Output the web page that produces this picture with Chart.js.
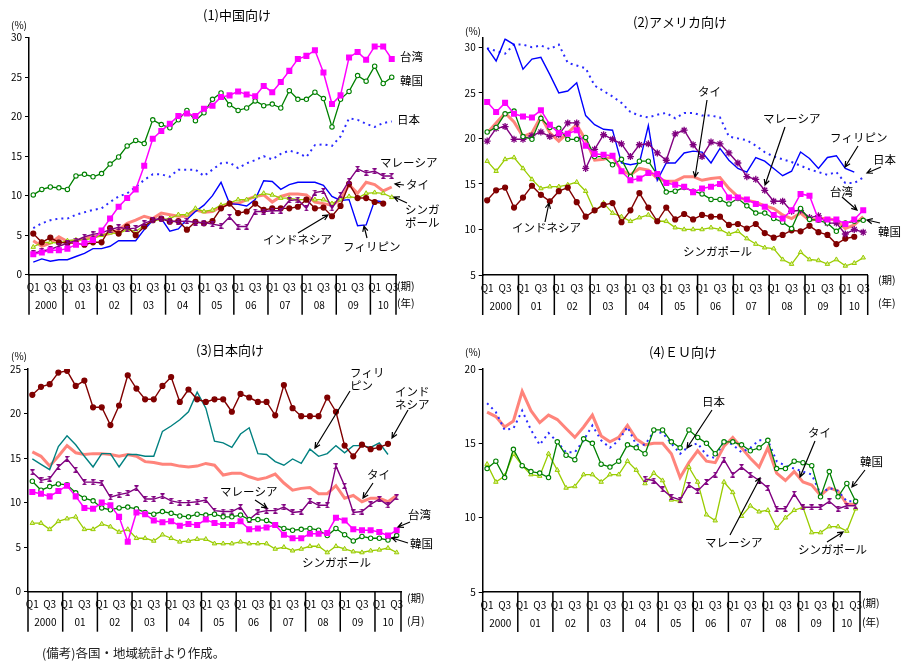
<!DOCTYPE html>
<html>
<head>
<meta charset="utf-8">
<script src="https://cdn.jsdelivr.net/npm/chart.js@4.4.0/dist/chart.umd.min.js"></script>
<style>
  body { margin: 0; background: #fff; }
  canvas { position: absolute; }
  #note { position: absolute; left: 42px; top: 643px; font: 12.5px "Noto Sans CJK JP", sans-serif; color: #222; }
</style>
</head>
<body>
<canvas id="cn" width="450" height="330" style="left:0;top:0"></canvas>
<canvas id="us" width="459" height="330" style="left:450px;top:0"></canvas>
<canvas id="jp" width="450" height="333" style="left:0;top:335px"></canvas>
<canvas id="eu" width="459" height="333" style="left:450px;top:335px"></canvas>
<div id="note">(備考)各国・地域統計より作成。</div>
<script>
// categories: 2000Q1 .. 2010Q3
var yearLabels = ['2000', '01', '02', '03', '04', '05', '06', '07', '08', '09', '10'];
var quarters = [];
for (var y = 2000; y <= 2010; y++) {
  for (var q = 1; q <= 4; q++) {
    if (y === 2010 && q > 3) break;
    quarters.push(y + 'Q' + q);
  }
}

// (1) 中国向け
var cnTaiwan = [2.6,2.8,3.1,3.1, 3.3,3.8,4.0,4.4, 5.6,7.1,8.6,9.7, 10.8,13.8,17.2,18.2, 19.1,20.1,20.4,20.1, 21.0,21.4,22.5,22.7, 23.2,22.8,22.6,23.9, 23.1,24.4,25.8,27.3, 27.7,28.4,25.6,21.6, 22.7,27.5,28.2,27.2, 28.9,28.9,27.3];
var cnKorea = [10.1,10.8,11.1,11.0, 10.8,12.5,12.7,12.4, 12.8,14.0,14.9,16.3, 17.0,16.6,19.6,19.0, 18.6,19.6,20.8,19.5, 20.5,22.2,23.0,21.5, 20.8,21.1,22.0,21.4, 21.6,21.1,23.3,22.2, 22.2,23.1,22.3,18.7, 22.2,23.2,25.2,24.5, 26.4,24.2,25.0];
var cnJapan = [5.9,6.5,6.9,7.1, 7.1,7.6,7.9,8.2, 8.4,9.2,9.9,10.3, 11.1,12.0,12.7,12.7, 12.4,13.3,13.3,13.3, 12.5,13.3,14.1,14.2, 13.5,14.1,14.5,15.0, 14.6,15.3,15.7,15.4, 14.9,16.4,16.5,16.3, 17.5,19.8,19.6,19.1, 18.7,19.2,19.4];
var cnMalaysia = [2.7,3.0,3.2,3.6, 4.0,4.3,4.8,5.1, 5.3,5.7,6.0,5.8, 5.9,6.5,6.9,7.1, 6.8,6.7,6.8,6.6, 6.6,6.4,6.2,7.3, 6.1,6.1,8.0,8.0, 8.1,8.1,9.4,9.5, 8.4,10.4,10.6,8.4, 10.1,11.9,13.4,12.9, 13.1,12.5,12.5];
var cnThai = [4.3,3.6,4.0,4.8, 4.2,4.3,4.6,4.8, 5.0,5.2,5.7,6.5, 6.9,7.4,7.1,7.8, 7.6,7.4,7.4,8.2, 7.9,8.0,8.6,9.0, 9.0,9.5,9.9,10.1, 9.2,9.9,10.2,10.2, 10.1,9.2,9.0,8.8, 9.5,11.4,10.3,11.7, 11.4,10.6,11.1];
var cnSingapore = [3.5,4.1,4.1,4.0, 4.3,4.4,4.4,4.6, 5.0,5.3,5.2,5.7, 5.5,6.2,6.8,7.0, 7.1,7.6,7.6,8.4, 8.0,8.2,8.8,9.1, 9.5,9.5,9.9,10.3, 10.1,9.7,9.7,9.5, 9.5,9.5,9.5,9.0, 9.5,9.9,9.7,10.3, 10.4,10.3,9.8];
var cnIndonesia = [5.2,4.1,4.7,4.1, 4.0,4.0,3.8,4.1, 4.1,5.9,5.2,6.1, 5.0,6.1,6.9,7.1, 6.7,6.8,5.7,6.7, 6.5,6.8,8.4,9.0, 7.8,8.0,9.0,8.2, 8.4,8.4,8.4,8.6, 9.5,8.4,8.5,7.4, 8.7,11.5,9.7,9.7, 9.2,9.0,null];
var cnPhilippines = [1.6,2.0,1.7,1.9, 1.9,2.3,2.7,3.3, 3.3,3.6,4.3,4.3, 4.3,5.7,6.9,7.1, 5.5,5.8,7.0,8.0, 8.8,10.0,11.7,9.0, 8.9,8.7,9.5,11.9, 11.8,10.8,11.4,11.7, 11.7,11.7,11.3,9.9, 9.4,9.5,6.2,6.3, 9.4,9.2,null];

// (2) アメリカ向け
var usTaiwan = [24.0,22.9,23.9,22.7, 22.4,22.3,23.1,21.5, 20.6,20.5,20.9,19.2, 18.3,18.2,18.1,16.4, 15.4,15.6,16.2,16.1, 15.1,14.9,14.7,14.1, 14.5,14.7,15.0,13.5, 13.5,13.3,12.8,12.5, 11.6,11.2,12.1,13.9, 13.7,11.1,11.1,11.1, 10.6,11.1,12.1];
var usKorea = [20.7,21.2,22.7,23.0, 20.2,19.9,22.2,21.2, 21.1,19.9,19.9,20.1, 18.0,18.0,17.1,17.7, 15.8,17.5,17.5,16.0, 14.1,14.2,14.6,14.2, 13.9,13.3,13.3,12.8, 13.4,12.6,11.8,11.8, 11.2,10.8,10.1,12.3, 11.1,11.0,10.7,9.8, 10.7,10.9,11.0];
var usJapan = [29.9,29.6,29.3,30.3, 30.3,30.0,30.2,29.8, 30.3,28.3,28.0,27.7, 25.8,25.2,24.6,23.9, 22.9,22.5,22.3,22.6, 22.8,22.2,22.8,22.8, 22.5,22.5,22.3,20.2, 20.0,19.8,19.2,18.5, 18.0,17.7,17.4,17.0, 16.6,16.3,16.0,16.3, 15.1,15.1,15.7];
var usPhilippines = [29.9,28.5,30.9,30.3, 27.6,28.7,28.9,27.0, 25.0,25.2,26.1,22.5, 21.5,21.0,20.9,17.3, 17.1,17.3,21.4,15.4, 17.3,17.3,18.4,18.6, 18.5,17.3,18.9,17.6, 16.7,16.3,17.9,17.5, 16.7,15.9,16.4,18.5, 17.8,16.7,17.9,18.1, 16.7,16.3,null];
var usThai = [20.6,21.7,22.8,21.8, 20.2,20.6,22.4,20.6, 19.7,20.6,21.5,19.8, 17.6,17.7,18.0,16.5, 16.0,16.7,16.5,15.6, 15.3,15.3,15.8,15.8, 15.4,15.6,15.7,14.5, 13.6,13.2,13.0,12.6, 12.3,11.6,11.2,11.8, 11.0,11.2,11.2,11.0, 10.1,10.5,11.4];
var usMalaysia = [19.7,21.1,21.3,19.9, 19.9,20.3,20.7,20.2, 20.4,21.7,21.7,16.7, 18.8,20.4,19.9,19.4, 18.0,19.3,19.4,18.4, 17.6,20.5,20.9,19.3, 18.0,19.6,19.4,18.4, 17.3,15.8,15.5,14.3, 13.1,13.1,12.0,12.1, 11.3,11.5,10.7,10.7, 9.5,10.0,9.7];
var usIndonesia = [13.2,14.3,14.6,12.4, 13.5,14.8,13.8,13.1, 14.2,14.6,13.0,11.4, 12.1,12.7,12.9,10.8, 12.1,14.0,12.4,10.9, 12.4,11.1,11.7,11.1, 11.6,11.4,11.4,10.5, 10.6,10.1,10.6,9.6, 9.1,9.4,9.9,9.8, 10.4,9.7,9.4,8.4, 9.0,9.2,null];
var usSingapore = [17.5,16.4,17.7,17.9, 16.7,15.5,14.5,14.7, 14.7,14.9,15.2,14.2, 12.0,12.9,11.8,11.4, 10.9,11.3,11.6,10.9, 10.9,10.2,10.0,10.0, 10.0,10.2,10.0,9.5, 9.8,9.0,8.4,8.0, 7.9,6.7,6.2,7.5, 6.7,6.6,6.2,6.7, 6.0,6.3,6.9];

// (3) 日本向け
var jpIndonesia = [22.1,23.0,23.3,24.6, 24.8,23.1,23.7,20.7, 20.7,18.7,20.9,24.3, 22.8,21.6,21.6,23.1, 24.1,21.3,22.7,21.6, 21.3,21.6,21.6,20.2, 22.2,21.8,21.3,21.3, 19.8,23.2,20.6,19.7, 19.7,19.7,21.8,20.2, 16.4,15.2,16.5,16.0, 16.2,16.6,null];
var jpPhilippines = [14.9,14.3,13.7,16.3, 17.5,16.5,15.2,14.0, 15.5,15.5,14.0,15.4, 15.4,15.2,15.2,18.0, 18.6,19.3,20.2,22.4, 20.6,16.9,16.7,16.2, 17.7,18.4,15.5,15.4, 14.6,14.2,14.9,14.4, 16.0,15.2,15.5,16.4, 15.6,16.4,16.4,16.2, 16.7,15.4,null];
var jpThai = [15.7,15.2,14.1,15.2, 16.4,15.6,15.4,15.5, 15.5,15.4,15.2,15.4, 15.2,14.6,14.5,14.3, 14.3,14.1,14.0,14.1, 14.4,14.2,13.1,13.3, 13.3,12.9,12.6,12.8, 13.2,12.2,11.4,11.6, 11.7,11.0,11.0,11.9, 10.5,10.8,10.1,10.5, 10.5,10.1,10.8];
var jpMalaysia = [13.4,12.5,12.7,14.0, 14.9,13.7,12.3,12.3, 12.2,10.6,10.9,11.1, 11.6,10.4,10.4,10.7, 10.2,10.0,10.0,10.1, 10.3,9.1,9.0,9.0, 9.5,8.1,8.9,9.1, 9.1,9.5,8.9,9.0, 10.2,9.7,9.7,14.1, 11.9,8.9,9.0,9.8, 10.4,9.7,10.6];
var jpKorea = [12.4,11.4,11.8,12.1, 12.0,11.1,10.5,10.2, 9.4,9.2,9.4,9.5, 9.3,8.9,8.7,9.0, 8.8,8.5,8.4,8.7, 8.6,8.7,8.4,8.4, 8.6,8.1,8.1,8.0, 7.5,7.1,6.9,7.0, 7.1,6.9,6.3,7.1, 6.4,5.7,6.2,6.0, 6.0,5.8,6.3];
var jpTaiwan = [11.2,11.0,10.7,11.3, 11.9,10.7,9.4,9.3, 10.0,9.7,8.4,5.6, 8.9,8.7,8.0,7.8, 7.9,7.4,7.6,7.5, 8.1,7.7,7.5,7.5, 7.9,7.0,7.1,7.2, 7.5,6.4,6.0,6.0, 6.5,6.5,6.6,8.3, 8.0,7.0,6.9,6.9, 6.7,6.3,6.9];
var jpSingapore = [7.7,7.7,7.0,7.9, 8.2,8.4,7.0,7.0, 7.6,7.3,6.7,7.0, 6.0,6.0,5.7,6.4, 6.0,5.6,5.7,5.9, 5.9,5.4,5.4,5.4, 5.6,5.4,5.4,5.4, 4.8,5.0,4.6,4.8, 5.1,5.1,4.4,5.1, 4.8,4.5,4.4,4.6, 4.7,4.9,4.4];

// (4) EU向け
var euJapan = [17.7,17.1,15.9,16.0, 17.2,15.9,14.9,15.7, 15.1,14.4,14.4,15.2, 16.2,15.2,14.7,15.2, 16.1,14.9,14.9,15.8, 15.7,15.0,14.3,14.8, 15.0,14.2,14.0,15.2, 14.9,14.4,14.7,15.2, 15.2,13.8,13.5,13.3, 13.1,12.9,11.6,12.0, 11.8,11.1,11.1];
var euThai = [17.1,16.8,16.1,16.5, 18.5,17.2,16.4,16.9, 16.6,16.0,15.4,16.1, 16.9,15.5,15.1,15.4, 16.2,15.3,14.9,15.0, 15.0,14.3,12.7,13.7, 14.5,13.8,13.7,14.8, 15.4,14.7,14.0,13.4, 14.7,13.0,12.5,13.1, 12.4,12.2,11.5,12.0, 11.8,10.9,10.9];
var euKorea = [13.3,13.8,12.7,14.6, 13.5,13.1,13.0,12.7, 15.1,14.2,13.9,15.3, 15.0,13.6,13.4,13.8, 14.9,14.7,14.3,15.9, 15.9,15.1,14.7,15.9, 15.4,15.0,14.3,15.1, 15.1,14.9,14.5,14.7, 15.2,13.3,13.3,13.8, 13.7,13.5,11.4,13.1, 11.4,12.3,11.1];
var euSingapore = [13.6,12.4,12.8,14.3, 13.5,12.9,12.8,14.3, 13.2,12.0,12.1,12.9, 12.9,12.4,12.9,12.9, 13.8,13.2,12.3,13.0, 12.5,11.2,11.1,13.4, 12.4,10.2,9.8,12.4, 11.7,10.1,10.8,10.4, 10.5,9.3,10.0,10.5, 10.7,9.0,9.0,9.4, 9.4,9.1,10.6];
var euMalaysia = [null,null,null,null, null,null,null,null, null,null,null,null, null,null,null,null, null,null,12.6,12.5, 11.9,11.4,11.2,12.2, 11.8,12.4,12.9,13.9, 12.9,13.4,12.9,12.5, 12.0,10.6,10.6,11.6, 10.7,10.7,10.7,11.1, 10.6,10.8,10.8];

Chart.defaults.font.family = '"Noto Sans CJK JP", sans-serif';
Chart.defaults.color = '#000';

// hourglass marker used for Malaysia
var hourglass = (function() {
  var c = document.createElement('canvas');
  c.width = 5; c.height = 6;
  var g = c.getContext('2d');
  g.fillStyle = '#800080';
  g.beginPath();
  g.moveTo(0, 0); g.lineTo(5, 0); g.lineTo(2.5, 3); g.closePath();
  g.moveTo(0, 6); g.lineTo(5, 6); g.lineTo(2.5, 3); g.closePath();
  g.fill();
  return c;
})();

function line(label, data, style) {
  var d = { label: label, data: data, tension: 0, spanGaps: false, fill: false };
  for (var k in style) d[k] = style[k];
  return d;
}

var sTaiwan = { borderColor: '#ff00ff', backgroundColor: '#ff00ff', borderWidth: 1.5, pointStyle: 'rect', pointRadius: 3.2 };
var sKorea = { borderColor: '#008000', backgroundColor: '#ffffff', borderWidth: 1.3, pointStyle: 'circle', pointRadius: 2.2, pointBorderWidth: 1.1 };
var sJapan = { borderColor: '#2a2aff', borderWidth: 2, borderDash: [2, 4], pointRadius: 0 };
var sMalaysia = { borderColor: '#800080', backgroundColor: '#800080', borderWidth: 1.4, pointStyle: hourglass, pointRadius: 3 };
var sMalaysiaStar = { borderColor: '#800080', backgroundColor: '#800080', borderWidth: 1.4, pointStyle: 'star', pointRadius: 3.5, pointBorderWidth: 1.3 };
var sThai = { borderColor: 'rgba(255,110,100,0.85)', borderWidth: 3, pointRadius: 0 };
var sSingapore = { borderColor: '#99cc00', backgroundColor: '#ddeea0', borderWidth: 1.3, pointStyle: 'triangle', pointRadius: 2.6, pointBorderWidth: 1 };
var sIndonesia = { borderColor: '#800000', backgroundColor: '#800000', borderWidth: 1.4, pointStyle: 'circle', pointRadius: 2.4 };
var sPhilippines = { borderColor: '#0000ff', borderWidth: 1.4, pointRadius: 0 };
var sPhilippinesTeal = { borderColor: '#008080', borderWidth: 1.4, pointRadius: 0 };

function arrow(ctx, a) {
  var x1 = a[0], y1 = a[1], x2 = a[2], y2 = a[3];
  var ang = Math.atan2(y2 - y1, x2 - x1);
  ctx.beginPath();
  ctx.moveTo(x1, y1); ctx.lineTo(x2, y2);
  ctx.moveTo(x2 - 6 * Math.cos(ang - 0.45), y2 - 6 * Math.sin(ang - 0.45));
  ctx.lineTo(x2, y2);
  ctx.lineTo(x2 - 6 * Math.cos(ang + 0.45), y2 - 6 * Math.sin(ang + 0.45));
  ctx.stroke();
}

function decor(p) {
  return {
    id: 'decor',
    afterDraw: function(chart) {
      var ctx = chart.ctx, xs = chart.scales.x, a = chart.chartArea;
      var n = quarters.length;
      ctx.save();
      // year separators and year row
      ctx.strokeStyle = '#000';
      ctx.lineWidth = 1.5;
      for (var k = 0; k <= n; k += 4) {
        var kk = k > n - 1 ? n : k;
        var px = xs.getPixelForValue(kk - 0.5);
        ctx.beginPath(); ctx.moveTo(px, a.bottom); ctx.lineTo(px, a.bottom + 40); ctx.stroke();
        if (k + 4 > n && k !== n) {
          px = xs.getPixelForValue(n - 0.5);
          ctx.beginPath(); ctx.moveTo(px, a.bottom); ctx.lineTo(px, a.bottom + 40); ctx.stroke();
        }
      }
      ctx.fillStyle = '#000';
      ctx.font = '10px "Noto Sans CJK JP"';
      ctx.textAlign = 'center';
      ctx.textBaseline = 'middle';
      yearLabels.forEach(function(yl, j) {
        var s = j * 4, e = Math.min(s + 4, n);
        var cx = (xs.getPixelForValue(s - 0.5) + xs.getPixelForValue(e - 0.5)) / 2;
        ctx.fillText(yl, cx, a.bottom + 31);
      });
      // texts placed in page coordinates
      ctx.translate(-p.ox, -p.oy);
      ctx.textAlign = 'left';
      ctx.font = '10.5px "Noto Sans CJK JP"';
      p.period.forEach(function(t) { ctx.fillText(t[0], t[1], t[2]); });
      ctx.textAlign = 'center';
      ctx.font = '10px "Noto Sans CJK JP"';
      ctx.fillText('(%)', p.unit[0], p.unit[1]);
      ctx.font = '13px "Noto Sans CJK JP"';
      ctx.fillText(p.title, p.titleAt[0], p.titleAt[1]);
      ctx.font = '11.5px "Noto Sans CJK JP"';
      ctx.textAlign = 'left';
      ctx.lineWidth = 1.2;
      p.notes.forEach(function(nt) {
        var lines = [].concat(nt.t);
        lines.forEach(function(s, i) { ctx.fillText(s, nt.x, nt.y + i * 12.5); });
        if (nt.arrow) arrow(ctx, nt.arrow);
      });
      ctx.restore();
    }
  };
}

function makeChart(id, p) {
  var XH = 45;
  new Chart(document.getElementById(id).getContext('2d'), {
    type: 'line',
    data: { labels: quarters, datasets: p.datasets },
    options: {
      responsive: false,
      animation: false,
      events: [],
      layout: {
        padding: {
          left: 0,
          top: p.area.t - p.oy,
          right: p.w - (p.area.r - p.ox),
          bottom: p.h - (p.area.b - p.oy) - XH
        }
      },
      plugins: { legend: { display: false }, tooltip: { enabled: false } },
      scales: {
        x: {
          type: 'category',
          offset: true,
          grid: { display: false, drawTicks: false },
          border: { display: true, color: '#000', width: 1.5 },
          ticks: {
            autoSkip: false, maxRotation: 0, padding: 7,
            font: { size: 10 }, color: '#000',
            callback: function(v) {
              var s = this.getLabelForValue(v).slice(-2);
              return (s === 'Q1' || s === 'Q3') ? s : '';
            }
          },
          afterFit: function(s) { s.height = XH; }
        },
        y: {
          min: p.min, max: p.max,
          border: { color: '#000', width: 1.5 },
          grid: { drawOnChartArea: false, tickLength: 4, color: '#000', lineWidth: 1 },
          ticks: { stepSize: 5, includeBounds: false, padding: 3, font: { size: 10 }, color: '#000' },
          afterFit: function(s) { s.width = p.area.l - p.ox; }
        }
      }
    },
    plugins: [decor(p)]
  });
}

makeChart('cn', {
  ox: 0, oy: 0, w: 450, h: 330,
  area: { l: 29, t: 37.7, r: 396, b: 274.7 }, min: 0, max: 30,
  title: '(1)中国向け', titleAt: [237, 15], unit: [19, 25],
  period: [['(期)', 397, 286], ['(年)', 397, 303]],
  datasets: [
    line('台湾', cnTaiwan, sTaiwan),
    line('韓国', cnKorea, sKorea),
    line('マレーシア', cnMalaysia, sMalaysia),
    line('インドネシア', cnIndonesia, sIndonesia),
    line('シンガポール', cnSingapore, sSingapore),
    line('フィリピン', cnPhilippines, sPhilippines),
    line('日本', cnJapan, sJapan),
    line('タイ', cnThai, sThai)
  ],
  notes: [
    { t: '台湾', x: 400, y: 57 },
    { t: '韓国', x: 400, y: 81 },
    { t: '日本', x: 397, y: 120 },
    { t: 'マレーシア', x: 380, y: 163 },
    { t: 'タイ', x: 406, y: 185, arrow: [404, 185, 395, 184] },
    { t: ['シンガ', 'ポール'], x: 405, y: 210, arrow: [407, 203, 394, 197] },
    { t: 'インドネシア', x: 263, y: 240, arrow: [298, 233, 328, 215] },
    { t: 'フィリピン', x: 343, y: 247, arrow: [367, 238, 364, 226] }
  ]
});

makeChart('us', {
  ox: 450, oy: 0, w: 459, h: 330,
  area: { l: 482.7, t: 38.2, r: 867.7, b: 275 }, min: 5, max: 31,
  title: '(2)アメリカ向け', titleAt: [680, 22], unit: [473, 31],
  period: [['(期)', 878, 280], ['(年)', 878, 303]],
  datasets: [
    line('台湾', usTaiwan, sTaiwan),
    line('韓国', usKorea, sKorea),
    line('マレーシア', usMalaysia, sMalaysiaStar),
    line('インドネシア', usIndonesia, sIndonesia),
    line('シンガポール', usSingapore, sSingapore),
    line('フィリピン', usPhilippines, sPhilippines),
    line('日本', usJapan, sJapan),
    line('タイ', usThai, sThai)
  ],
  notes: [
    { t: 'タイ', x: 698, y: 92, arrow: [707, 100, 695, 177] },
    { t: 'マレーシア', x: 763, y: 119, arrow: [785, 127, 765, 185] },
    { t: 'フィリピン', x: 830, y: 138, arrow: [858, 146, 845, 167] },
    { t: '日本', x: 873, y: 160, arrow: [881, 167, 867, 173] },
    { t: '台湾', x: 830, y: 192, arrow: [842, 197, 857, 210] },
    { t: '韓国', x: 878, y: 232, arrow: [880, 223, 867, 220] },
    { t: 'インドネシア', x: 512, y: 228, arrow: [545, 222, 549, 203] },
    { t: 'シンガポール', x: 683, y: 252 }
  ]
});

makeChart('jp', {
  ox: 0, oy: 335, w: 450, h: 333,
  area: { l: 28, t: 369, r: 401, b: 591.7 }, min: 0, max: 25,
  title: '(3)日本向け', titleAt: [230, 350], unit: [19, 356],
  period: [['(期)', 407, 598], ['(月)', 407, 621]],
  datasets: [
    line('インドネシア', jpIndonesia, sIndonesia),
    line('台湾', jpTaiwan, sTaiwan),
    line('韓国', jpKorea, sKorea),
    line('マレーシア', jpMalaysia, sMalaysia),
    line('シンガポール', jpSingapore, sSingapore),
    line('フィリピン', jpPhilippines, sPhilippinesTeal),
    line('タイ', jpThai, sThai)
  ],
  notes: [
    { t: ['フィリ', 'ピン'], x: 350, y: 373, arrow: [350, 391, 315, 448] },
    { t: ['インド', 'ネシア'], x: 395, y: 392, arrow: [408, 410, 392, 438] },
    { t: 'タイ', x: 367, y: 475, arrow: [373, 483, 363, 498] },
    { t: 'マレーシア', x: 220, y: 492, arrow: [255, 500, 267, 508] },
    { t: '台湾', x: 408, y: 515, arrow: [410, 522, 398, 527] },
    { t: '韓国', x: 410, y: 544, arrow: [408, 543, 392, 538] },
    { t: 'シンガポール', x: 302, y: 563 }
  ]
});

makeChart('eu', {
  ox: 450, oy: 335, w: 459, h: 333,
  area: { l: 482.7, t: 369, r: 860, b: 592 }, min: 5, max: 20,
  title: '(4)ＥＵ向け', titleAt: [683, 352], unit: [473, 352],
  period: [['(期)', 862, 603], ['(年)', 862, 622]],
  datasets: [
    line('韓国', euKorea, sKorea),
    line('マレーシア', euMalaysia, sMalaysia),
    line('シンガポール', euSingapore, sSingapore),
    line('日本', euJapan, sJapan),
    line('タイ', euThai, sThai)
  ],
  notes: [
    { t: '日本', x: 702, y: 402, arrow: [712, 410, 687, 448] },
    { t: 'タイ', x: 808, y: 433, arrow: [815, 441, 800, 477] },
    { t: '韓国', x: 860, y: 462, arrow: [865, 470, 852, 487] },
    { t: 'マレーシア', x: 705, y: 543, arrow: [730, 535, 760, 478] },
    { t: 'シンガポール', x: 798, y: 550, arrow: [827, 542, 843, 532] }
  ]
});
</script>
</body>
</html>
